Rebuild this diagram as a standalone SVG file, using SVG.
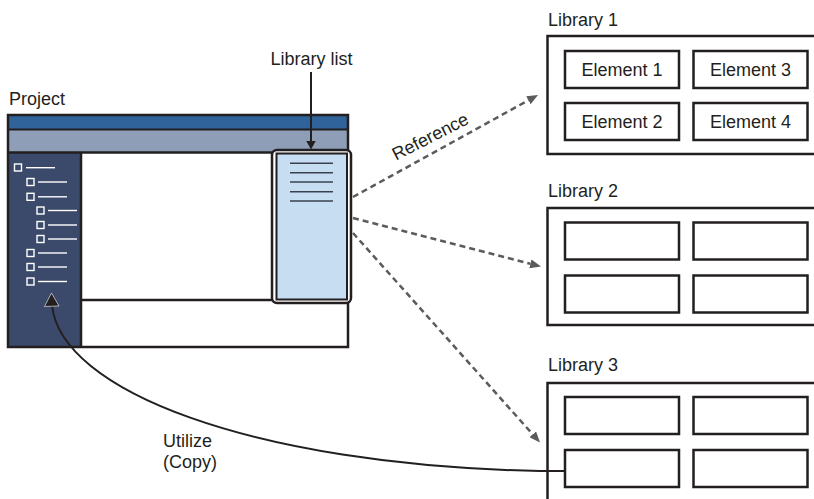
<svg xmlns="http://www.w3.org/2000/svg" width="814" height="499" viewBox="0 0 814 499">
<defs>
<style>
text{font-family:"Liberation Sans",Arial,sans-serif;font-size:18px;fill:#231f20}
.frame{fill:none;stroke:#231f20;stroke-width:2.5}
.box{fill:#fff;stroke:#231f20;stroke-width:2.5}
.tree rect{fill:none;stroke:#fff;stroke-width:1.4}
.tree line{stroke:#fff;stroke-width:1.4}
.dash{fill:none;stroke:#5a5b5d;stroke-width:2.5;stroke-dasharray:6 4}
.mid{text-anchor:middle}
</style>
<marker id="gh" viewBox="0 0 11 9" refX="0" refY="4.5" markerWidth="11" markerHeight="9" markerUnits="userSpaceOnUse" orient="auto">
<path d="M0,0 L11,4.5 L0,9 z" fill="#5a5b5d"/>
</marker>
</defs>

<g id="project">
<text x="9" y="105">Project</text>
<rect x="8" y="115" width="340" height="232" fill="#fff"/>
<rect x="8" y="115" width="340" height="14.5" fill="#2f6399"/>
<rect x="8" y="129.5" width="340" height="23" fill="#8d9eb6"/>
<rect x="8" y="152.5" width="73" height="194.5" fill="#3b4a6a"/>
<line x1="8" y1="129.5" x2="348" y2="129.5" stroke="#231f20" stroke-width="2"/>
<line x1="8" y1="152.5" x2="348" y2="152.5" stroke="#231f20" stroke-width="2.5"/>
<line x1="81" y1="152.5" x2="81" y2="347" stroke="#231f20" stroke-width="2.5"/>
<line x1="81" y1="300" x2="348" y2="300" stroke="#231f20" stroke-width="2.5"/>
<rect class="frame" x="8" y="115" width="340" height="232"/>
<g class="tree">
<rect x="14.5" y="164" width="7" height="7"/><line x1="26" y1="167.7" x2="55" y2="167.7"/>
<rect x="27" y="178.5" width="7" height="7"/><line x1="38" y1="182" x2="67" y2="182"/>
<rect x="27" y="193.3" width="7" height="7"/><line x1="38" y1="196.8" x2="67" y2="196.8"/>
<rect x="37" y="207" width="7" height="7"/><line x1="48" y1="210.5" x2="77" y2="210.5"/>
<rect x="37" y="221.5" width="7" height="7"/><line x1="48" y1="225" x2="77" y2="225"/>
<rect x="37" y="235.5" width="7" height="7"/><line x1="48" y1="239" x2="77" y2="239"/>
<rect x="27" y="249.5" width="7" height="7"/><line x1="38" y1="253" x2="67" y2="253"/>
<rect x="27" y="263.5" width="7" height="7"/><line x1="38" y1="267" x2="67" y2="267"/>
<rect x="27" y="278" width="7" height="7"/><line x1="38" y1="281.5" x2="67" y2="281.5"/>
</g>
</g>

<g id="library-list">
<rect x="272" y="150" width="79" height="153" rx="5" fill="#fff" stroke="#231f20" stroke-width="2.5"/>
<rect x="276.5" y="153.5" width="70.5" height="146" fill="#c7def2" stroke="#231f20" stroke-width="2"/>
<g stroke="#3a4050" stroke-width="1.5">
<line x1="290" y1="163.3" x2="333" y2="163.3"/>
<line x1="290" y1="172.7" x2="333" y2="172.7"/>
<line x1="290" y1="182" x2="333" y2="182"/>
<line x1="290" y1="191.7" x2="333" y2="191.7"/>
<line x1="290" y1="201" x2="333" y2="201"/>
</g>
<text class="mid" x="311.5" y="65">Library list</text>
</g>

<g id="library1">
<text x="548" y="26">Library 1</text>
<rect class="box" x="547.5" y="36" width="300" height="118"/>
<rect class="box" x="565" y="51" width="114" height="37"/>
<rect class="box" x="693.5" y="51" width="114" height="37"/>
<rect class="box" x="565" y="103" width="114" height="37"/>
<rect class="box" x="693.5" y="103" width="114" height="37"/>
<text class="mid" x="622" y="75.5">Element 1</text>
<text class="mid" x="750.5" y="75.5">Element 3</text>
<text class="mid" x="622" y="127.5">Element 2</text>
<text class="mid" x="750.5" y="127.5">Element 4</text>
</g>

<g id="library2">
<text x="548" y="197">Library 2</text>
<rect class="box" x="547.5" y="208" width="300" height="117"/>
<rect class="box" x="565" y="222.5" width="114" height="37"/>
<rect class="box" x="693.5" y="222.5" width="114" height="37"/>
<rect class="box" x="565" y="275.5" width="114" height="37"/>
<rect class="box" x="693.5" y="275.5" width="114" height="37"/>
</g>

<g id="library3">
<text x="548" y="371">Library 3</text>
<rect class="box" x="547.5" y="383" width="300" height="200"/>
<rect class="box" x="565" y="397" width="114" height="37"/>
<rect class="box" x="693.5" y="397" width="114" height="37"/>
<rect class="box" x="565" y="450" width="114" height="37"/>
<rect class="box" x="693.5" y="450" width="114" height="37"/>
</g>

<g id="connectors">
<line x1="311" y1="72" x2="311" y2="142" stroke="#231f20" stroke-width="2"/>
<polygon points="311,149.5 306.3,141 315.7,141" fill="#231f20"/>
<path class="dash" d="M353,197 L528.4,100.3" marker-end="url(#gh)"/>
<path class="dash" d="M353,218 L530.4,263.8" marker-end="url(#gh)"/>
<path class="dash" d="M353,233 L532.7,434.3" marker-end="url(#gh)"/>
<text class="mid" x="433" y="142" transform="rotate(-27 433 142)">Reference</text>
<path d="M565,471 L540,471 C250,465 60,390 52,305" fill="none" stroke="#231f20" stroke-width="2"/>
<polygon points="51.5,293 44.5,306.5 59,306" fill="#231f20" stroke="#fff" stroke-width="0.6"/>
<text x="163" y="447">Utilize</text>
<text x="163" y="468">(Copy)</text>
</g>
</svg>
